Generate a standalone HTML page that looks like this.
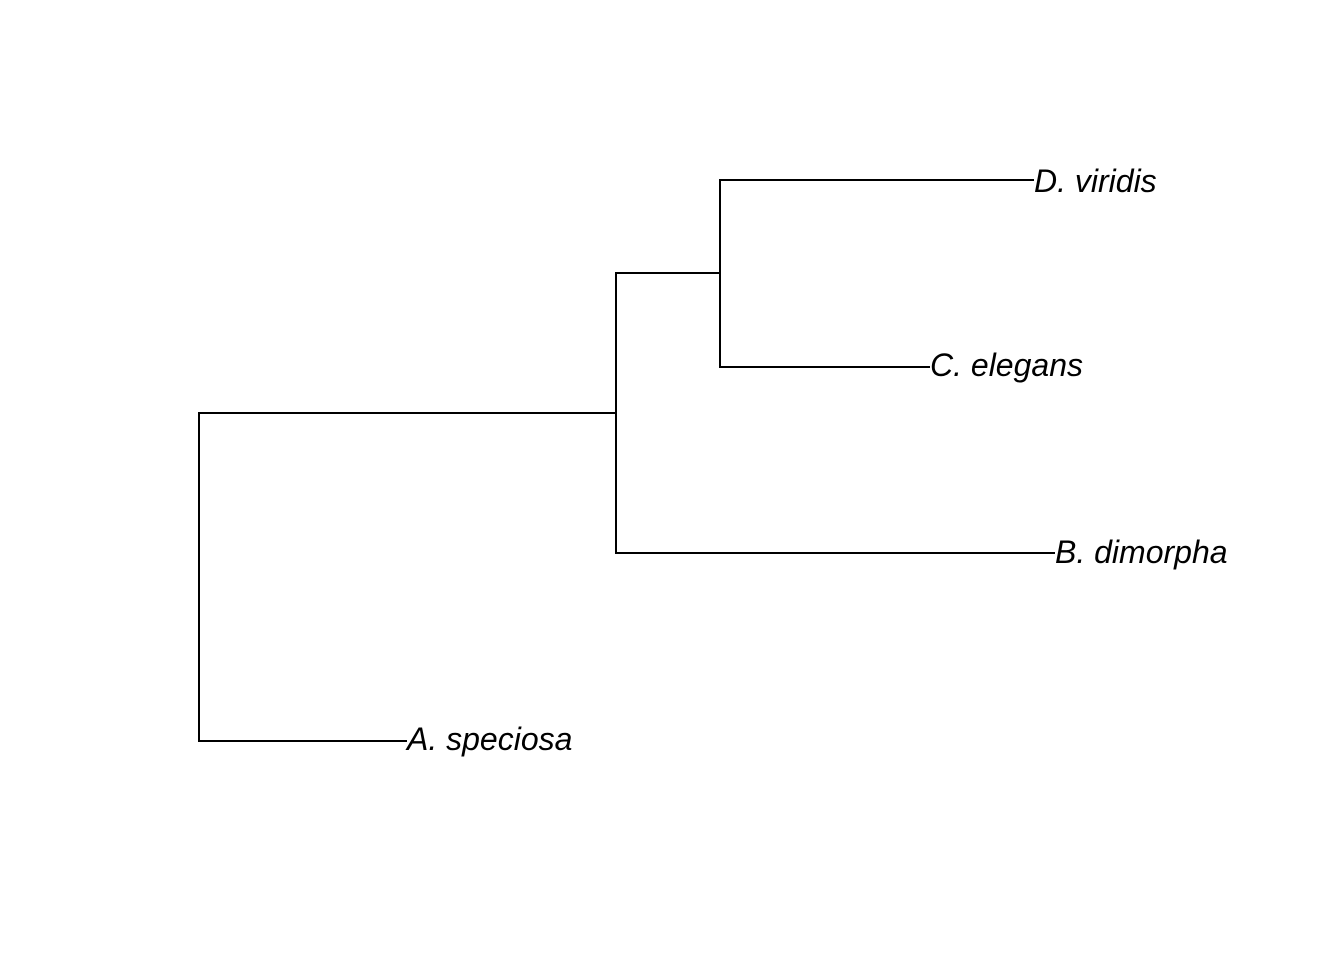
<!DOCTYPE html>
<html><head><meta charset="utf-8"><style>
html,body{margin:0;padding:0;background:#fff;}
svg{display:block;}
text{font-family:"Liberation Sans",Arial,sans-serif;font-style:italic;font-size:32px;fill:#000;}
</style></head><body>
<svg width="1344" height="960" viewBox="0 0 1344 960" xmlns="http://www.w3.org/2000/svg">
<g stroke="#000" stroke-width="2" fill="none" stroke-linecap="square">
<line x1="199" y1="413" x2="199" y2="741"/>
<line x1="199" y1="413" x2="616" y2="413"/>
<line x1="199" y1="741" x2="406" y2="741"/>
<line x1="616" y1="273" x2="616" y2="553"/>
<line x1="616" y1="273" x2="720" y2="273"/>
<line x1="616" y1="553" x2="1054" y2="553"/>
<line x1="720" y1="180" x2="720" y2="367"/>
<line x1="720" y1="180" x2="1033" y2="180"/>
<line x1="720" y1="367" x2="929" y2="367"/>
</g>
<text x="1034" y="192">D. viridis</text>
<text x="930" y="376">C. elegans</text>
<text x="1055" y="563">B. dimorpha</text>
<text x="407" y="750">A. speciosa</text>
</svg>
</body></html>
